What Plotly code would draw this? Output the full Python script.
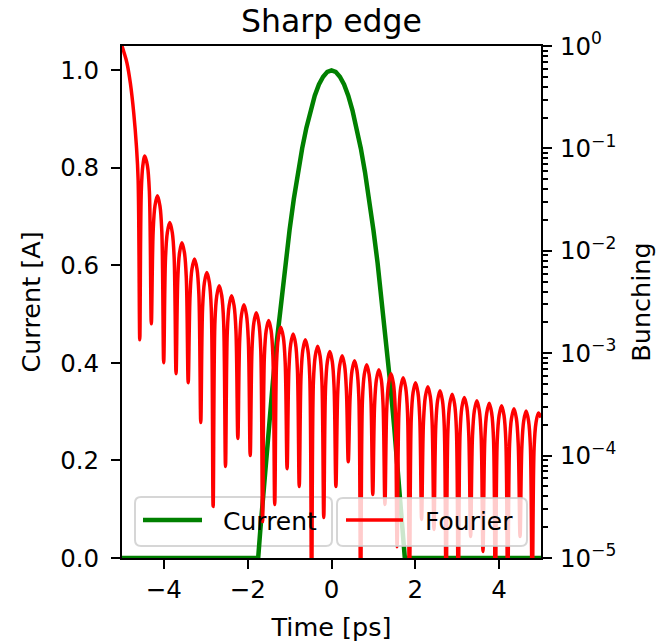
import plotly.graph_objects as go

# ---------------- data ----------------
# Current profile (left axis)
time_ps = [-5.0, -1.75, -1.7, -1.6, -1.5, -1.4, -1.3, -1.2, -1.1, -1.0, -0.9, -0.8,
           -0.7, -0.6, -0.5, -0.4, -0.3, -0.2, -0.1, 0.0, 0.1, 0.2, 0.3, 0.4, 0.5,
           0.6, 0.7, 0.8, 0.9, 1.0, 1.1, 1.2, 1.3, 1.4, 1.5, 1.6, 1.7, 1.75, 5.0]
current_A = [0.0, 0.0, 0.056, 0.164, 0.265, 0.360, 0.448, 0.530, 0.605, 0.673, 0.736, 0.791,
             0.840, 0.882, 0.918, 0.948, 0.971, 0.987, 0.997, 1.0, 0.997, 0.987, 0.971, 0.948, 0.918,
             0.882, 0.840, 0.791, 0.736, 0.673, 0.605, 0.530, 0.448, 0.360, 0.265, 0.164, 0.056, 0.0, 0.0]

# Fourier / bunching (right log axis): main lobe, then dips and lobe tops
main_lobe_x = [-5.0, -4.95, -4.88, -4.80, -4.72, -4.655, -4.615]
main_lobe_b = [1.0, 0.86, 0.678, 0.432, 0.222, 0.104, 0.0493]

dip_x = [-4.576, -4.30, -4.005, -3.71, -3.42, -3.12, -2.825, -2.53, -2.235, -1.94, -1.645,
         -1.355, -1.06, -0.77, -0.475, -0.185, 0.105, 0.40, 0.695, 0.985, 1.275, 1.565,
         1.86, 2.15, 2.445, 2.735, 3.025, 3.32, 3.615, 3.91, 4.205, 4.50, 4.79]
dip_b = [1.355e-3, 1.94e-3, 8.07e-4, 6.31e-4, 5.15e-4, 2.10e-4, 3.18e-5, 7.82e-5, 1.47e-4,
         1.0e-4, 2.27e-5, 3.33e-5, 7.46e-5, 4.99e-5, 3e-6, 2.48e-5, 4.99e-5, 8.7e-5, 3e-6,
         4.17e-5, 3.33e-5, 1.29e-5, 3e-6, 2.38e-5, 1.90e-5, 3e-6, 3e-6, 1.62e-5, 1.16e-5,
         3e-6, 3e-6, 1.62e-5, 3e-6]

peak_x = [-4.455, -4.155, -3.86, -3.57, -3.27, -2.975, -2.68, -2.385, -2.09, -1.795, -1.50,
          -1.21, -0.915, -0.625, -0.33, -0.04, 0.255, 0.55, 0.84, 1.13, 1.42, 1.71, 2.005,
          2.30, 2.59, 2.88, 3.17, 3.47, 3.765, 4.06, 4.355, 4.645, 4.94]
peak_b = [0.0845, 0.0344, 0.0189, 0.0120, 0.0083, 0.00614, 0.00456, 0.00364, 0.00297,
          0.00248, 0.00209, 0.00179, 0.00154, 0.00135, 0.00117, 0.00104, 0.000945, 0.000845,
          0.000773, 0.000691, 0.000631, 0.000577, 0.000515, 0.000471, 0.000431, 0.000398,
          0.000370, 0.000344, 0.000325, 0.000307, 0.000287, 0.000272, 0.000261]

# rounded top of each lobe: height relative to the lobe top
# at a distance from the top given as a fraction of the top-to-dip distance
arch_pos = [0.7, 0.4]
arch_ratio = [0.45, 0.8]

end_x = [5.0]
end_b = [2.35e-4]

x_ticks = [-4, -2, 0, 2, 4]
x_ticktext = ["\u22124", "\u22122", "0", "2", "4"]
y_ticks = [0.0, 0.2, 0.4, 0.6, 0.8, 1.0]
y_ticktext = ["0.0", "0.2", "0.4", "0.6", "0.8", "1.0"]
y2_ticks = [1e-5, 1e-4, 1e-3, 1e-2, 1e-1, 1e0]
y2_ticktext = ["10<sup>\u22125</sup>", "10<sup>\u22124</sup>", "10<sup>\u22123</sup>",
               "10<sup>\u22122</sup>", "10<sup>\u22121</sup>", "10<sup>0</sup>"]

# ---------------- build the Fourier path ----------------
fx = list(main_lobe_x)
fb = list(main_lobe_b)
n = len(peak_x)
for i in range(n):
    fx.append(dip_x[i])
    fb.append(dip_b[i])
    hw_left = peak_x[i] - dip_x[i]
    for pos, ratio in zip(arch_pos, arch_ratio):
        fx.append(peak_x[i] - pos * hw_left)
        fb.append(peak_b[i] * ratio)
    fx.append(peak_x[i])
    fb.append(peak_b[i])
    if i + 1 < len(dip_x):
        hw_right = dip_x[i + 1] - peak_x[i]
        for pos, ratio in zip(reversed(arch_pos), reversed(arch_ratio)):
            fx.append(peak_x[i] + pos * hw_right)
            fb.append(peak_b[i] * ratio)
fx += end_x
fb += end_b

FONT = "DejaVu Sans"
GREEN = "#008000"
RED = "#ff0000"

fig = go.Figure()
fig.add_trace(go.Scatter(x=time_ps, y=current_A, mode="lines", name="Current",
                         line=dict(color=GREEN, width=4.5), yaxis="y", showlegend=False))
fig.add_trace(go.Scatter(x=fx, y=fb, mode="lines", name="Fourier",
                         line=dict(color=RED, width=3.5, shape="spline", smoothing=1.0),
                         yaxis="y2", showlegend=False))

# plot area in pixels
L, R, T, B = 122, 541, 46, 558
W, H = R - L, B - T


def px(x):
    return (x - L) / W


def py(y):
    return (B - y) / H


def rounded_rect(x0, y0, x1, y1, r=6):
    rx, ry = r / W, r / H
    a, b, c, d = px(x0), px(x1), py(y0), py(y1)  # c top, d bottom
    return (f"M {a+rx},{c} L {b-rx},{c} Q {b},{c} {b},{c-ry} L {b},{d+ry} "
            f"Q {b},{d} {b-rx},{d} L {a+rx},{d} Q {a},{d} {a},{d+ry} L {a},{c-ry} "
            f"Q {a},{c} {a+rx},{c} Z")


shapes = [
    # legend of the current axis (under the Fourier curve)
    dict(type="path", xref="paper", yref="paper", path=rounded_rect(135, 497, 332, 546),
         fillcolor="rgba(255,255,255,0.8)", line=dict(color="rgba(204,204,204,0.8)", width=2),
         layer="below"),
    dict(type="line", xref="paper", yref="paper", x0=px(143), x1=px(202), y0=py(520), y1=py(520),
         line=dict(color=GREEN, width=4.5), layer="above"),
    # legend of the Fourier axis (on top)
    dict(type="path", xref="paper", yref="paper", path=rounded_rect(337, 498, 527, 546),
         fillcolor="rgba(255,255,255,0.8)", line=dict(color="rgba(204,204,204,0.8)", width=2),
         layer="above"),
    dict(type="line", xref="paper", yref="paper", x0=px(346), x1=px(403), y0=py(520), y1=py(520),
         line=dict(color=RED, width=3.5), layer="above"),
]

annotations = [
    dict(text="Current", xref="paper", yref="paper", x=px(221), y=py(521), xanchor="left",
         yanchor="middle", showarrow=False, font=dict(family=FONT, size=25, color="black")),
    dict(text="Fourier", xref="paper", yref="paper", x=px(423), y=py(521), xanchor="left",
         yanchor="middle", showarrow=False, font=dict(family=FONT, size=25, color="black")),
]

axis_common = dict(showgrid=False, zeroline=False, showline=True, linecolor="black", linewidth=2,
                   ticks="outside", ticklen=9, tickwidth=2, tickcolor="black", automargin=False,
                   tickfont=dict(family=FONT, size=24.5, color="black"))

fig.update_layout(
    width=671, height=644,
    margin=dict(l=L, r=671 - R, t=T, b=644 - B),
    paper_bgcolor="white", plot_bgcolor="white",
    font=dict(family=FONT, size=25, color="black"),
    title=dict(text="Sharp edge", x=0.5, xref="paper", xanchor="center", y=1 - 21 / 644,
               yanchor="middle", font=dict(family=FONT, size=31.5, color="black")),
    xaxis=dict(range=[-5, 5], tickmode="array", tickvals=x_ticks, ticktext=x_ticktext,
               mirror=True, ticklabelstandoff=0,
               title=dict(text="Time [ps]", standoff=15, font=dict(family=FONT, size=25.5)),
               **axis_common),
    yaxis=dict(range=[0, 1.05], tickmode="array", tickvals=y_ticks, ticktext=y_ticktext,
               ticklabelstandoff=7,
               title=dict(text="Current [A]", standoff=12, font=dict(family=FONT, size=25.5)),
               **axis_common),
    yaxis2=dict(type="log", range=[-5, 0], overlaying="y", side="right",
                tickmode="array", tickvals=y2_ticks, ticktext=y2_ticktext, ticklabelstandoff=3,
                minor=dict(ticks="outside", ticklen=5, tickwidth=1.5, tickcolor="black",
                           dtick="D1", showgrid=False),
                title=dict(text="Bunching", standoff=17, font=dict(family=FONT, size=25.5)),
                **axis_common),
    shapes=shapes,
    annotations=annotations,
)

fig.write_html("out.html")
